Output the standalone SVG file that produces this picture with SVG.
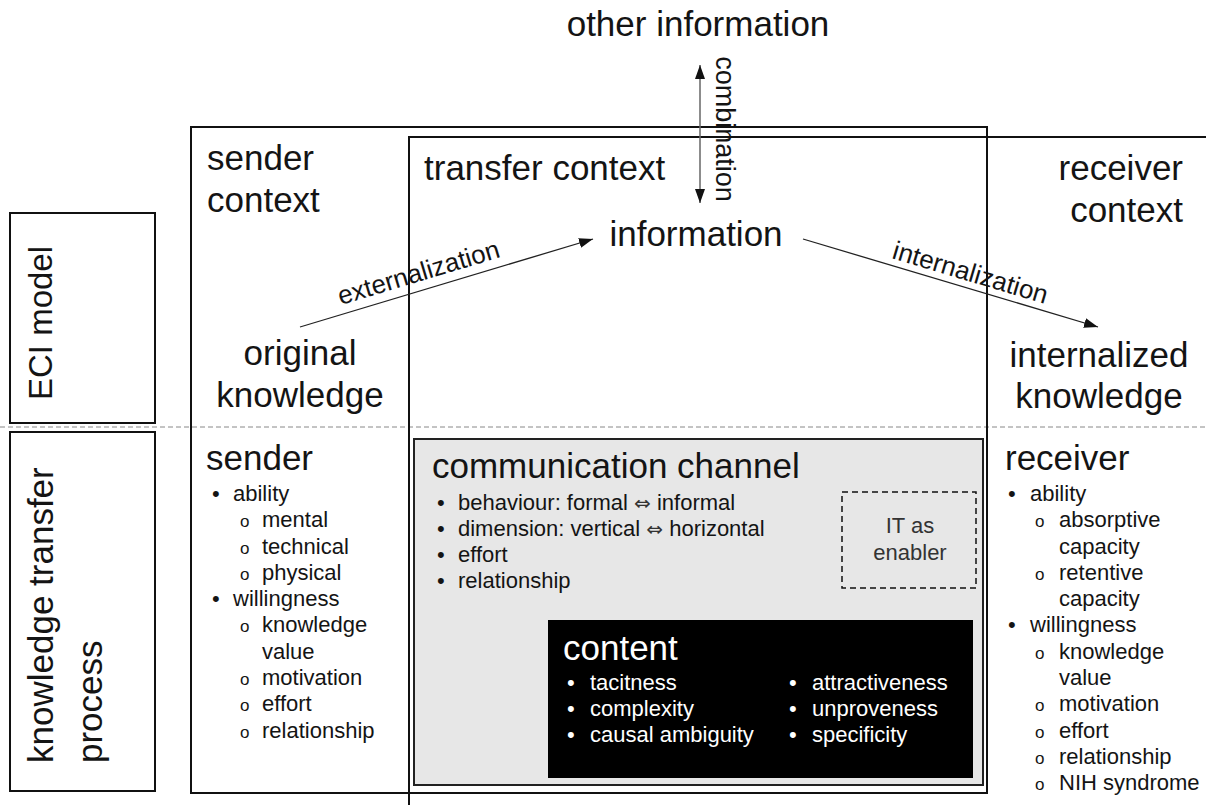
<svg xmlns="http://www.w3.org/2000/svg" width="1206" height="805" viewBox="0 0 1206 805">
<style>
text{font-family:"Liberation Sans",Arial,sans-serif;fill:#141414}
.big{font-size:35px}
.lbl{font-size:26px}
.sm{font-size:22px}
.ob{font-size:17px}
.w{fill:#fff}
.arr{font-family:"DejaVu Sans",sans-serif;font-size:20px;fill:#333}
.box{fill:none;stroke:#111;stroke-width:2}
.ln{stroke:#222;stroke-width:1.3;fill:none}
</style>
<defs>
<marker id="ah" viewBox="0 0 14 10" refX="14" refY="5" markerWidth="14" markerHeight="10" markerUnits="userSpaceOnUse" orient="auto-start-reverse">
<path d="M0,0 L14,5 L0,10 z" fill="#111"/>
</marker>
</defs>
<rect width="1206" height="805" fill="#fff"/>

<g id="eci-model">
<rect class="box" x="10" y="213" width="145" height="210"/>
<text transform="translate(52,323) rotate(-90)" text-anchor="middle" style="font-size:33px">ECI model</text>
</g>
<g id="knowledge-transfer-process">
<rect class="box" x="10" y="432" width="145" height="359"/>
<text class="big" transform="translate(53,763) rotate(-90)">knowledge transfer</text>
<text class="big" transform="translate(102,763) rotate(-90)">process</text>
</g>

<line x1="0" y1="427" x2="1206" y2="427" stroke="#888" stroke-width="1" stroke-dasharray="5,3"/>

<g id="sender-context">
<rect class="box" x="191" y="127" width="796" height="666"/>
<text class="big" x="207" y="170">sender</text>
<text class="big" x="207" y="212">context</text>
</g>
<g id="transfer-context">
<rect class="box" x="409" y="137" width="830" height="700"/>
<text class="big" x="424" y="180">transfer context</text>
</g>
<g id="receiver-context">
<text class="big" x="1183" y="180" text-anchor="end">receiver</text>
<text class="big" x="1183" y="222" text-anchor="end">context</text>
</g>

<g id="other-information"><text class="big" x="698" y="36" text-anchor="middle">other information</text></g>
<g id="information"><text class="big" x="696" y="246" text-anchor="middle">information</text></g>
<g id="original-knowledge">
<text class="big" x="300" y="365" text-anchor="middle">original</text>
<text class="big" x="300" y="407" text-anchor="middle">knowledge</text>
</g>
<g id="internalized-knowledge">
<text class="big" x="1099" y="367" text-anchor="middle">internalized</text>
<text class="big" x="1099" y="408" text-anchor="middle">knowledge</text>
</g>

<g id="connectors">
<line class="ln" x1="300" y1="327" x2="593" y2="239" marker-end="url(#ah)"/>
<text class="lbl" transform="translate(421,281) rotate(-16.7)" text-anchor="middle">externalization</text>
<line class="ln" x1="803" y1="239" x2="1098" y2="327" marker-end="url(#ah)"/>
<text class="lbl" transform="translate(968,281) rotate(16.6)" text-anchor="middle">internalization</text>
<line x1="700" y1="65" x2="700" y2="203" stroke="#666" stroke-width="1.5" marker-start="url(#ah)" marker-end="url(#ah)"/>
<text transform="translate(716,129) rotate(90)" text-anchor="middle" style="font-size:27px">combination</text>
</g>

<g id="sender">
<text class="big" x="206" y="470">sender</text>
<text class="sm" x="212" y="501">•</text><text class="sm" x="233" y="501">ability</text>
<text class="ob" x="240" y="527">o</text><text class="sm" x="262" y="527">mental</text>
<text class="ob" x="240" y="554">o</text><text class="sm" x="262" y="554">technical</text>
<text class="ob" x="240" y="580">o</text><text class="sm" x="262" y="580">physical</text>
<text class="sm" x="212" y="606">•</text><text class="sm" x="233" y="606">willingness</text>
<text class="ob" x="240" y="632">o</text><text class="sm" x="262" y="632">knowledge</text>
<text class="sm" x="262" y="659">value</text>
<text class="ob" x="240" y="685">o</text><text class="sm" x="262" y="685">motivation</text>
<text class="ob" x="240" y="711">o</text><text class="sm" x="262" y="711">effort</text>
<text class="ob" x="240" y="738">o</text><text class="sm" x="262" y="738">relationship</text>
</g>

<g id="communication-channel">
<rect x="414" y="439" width="569" height="346" fill="#e7e7e7" stroke="#222" stroke-width="2"/>
<text class="big" x="432" y="478">communication channel</text>
<text class="sm" x="437" y="510">•</text><text class="sm" x="458" y="510" xml:space="preserve">behaviour: formal <tspan class="arr">⇔</tspan> informal</text>
<text class="sm" x="437" y="536">•</text><text class="sm" x="458" y="536" xml:space="preserve">dimension: vertical <tspan class="arr">⇔</tspan> horizontal</text>
<text class="sm" x="437" y="562">•</text><text class="sm" x="458" y="562">effort</text>
<text class="sm" x="437" y="588">•</text><text class="sm" x="458" y="588">relationship</text>
</g>

<g id="it-as-enabler">
<rect x="842" y="492" width="134" height="96" fill="none" stroke="#111" stroke-width="1.5" stroke-dasharray="6,4"/>
<text class="sm" x="910" y="533" text-anchor="middle" style="fill:#333">IT as</text>
<text class="sm" x="910" y="560" text-anchor="middle" style="fill:#333">enabler</text>
</g>

<g id="content">
<rect x="548" y="620" width="425" height="158" fill="#000"/>
<text class="big w" x="563" y="660">content</text>
<text class="sm w" x="567" y="690">•</text><text class="sm w" x="590" y="690">tacitness</text>
<text class="sm w" x="567" y="716">•</text><text class="sm w" x="590" y="716">complexity</text>
<text class="sm w" x="567" y="742">•</text><text class="sm w" x="590" y="742">causal ambiguity</text>
<text class="sm w" x="789" y="690">•</text><text class="sm w" x="812" y="690">attractiveness</text>
<text class="sm w" x="789" y="716">•</text><text class="sm w" x="812" y="716">unproveness</text>
<text class="sm w" x="789" y="742">•</text><text class="sm w" x="812" y="742">specificity</text>
</g>

<g id="receiver">
<text class="big" x="1005" y="470">receiver</text>
<text class="sm" x="1008" y="501">•</text><text class="sm" x="1030" y="501">ability</text>
<text class="ob" x="1035" y="527">o</text><text class="sm" x="1059" y="527">absorptive</text>
<text class="sm" x="1059" y="554">capacity</text>
<text class="ob" x="1035" y="580">o</text><text class="sm" x="1059" y="580">retentive</text>
<text class="sm" x="1059" y="606">capacity</text>
<text class="sm" x="1008" y="632">•</text><text class="sm" x="1030" y="632">willingness</text>
<text class="ob" x="1035" y="659">o</text><text class="sm" x="1059" y="659">knowledge</text>
<text class="sm" x="1059" y="685">value</text>
<text class="ob" x="1035" y="711">o</text><text class="sm" x="1059" y="711">motivation</text>
<text class="ob" x="1035" y="738">o</text><text class="sm" x="1059" y="738">effort</text>
<text class="ob" x="1035" y="764">o</text><text class="sm" x="1059" y="764">relationship</text>
<text class="ob" x="1035" y="790">o</text><text class="sm" x="1059" y="790">NIH syndrome</text>
</g>
</svg>
